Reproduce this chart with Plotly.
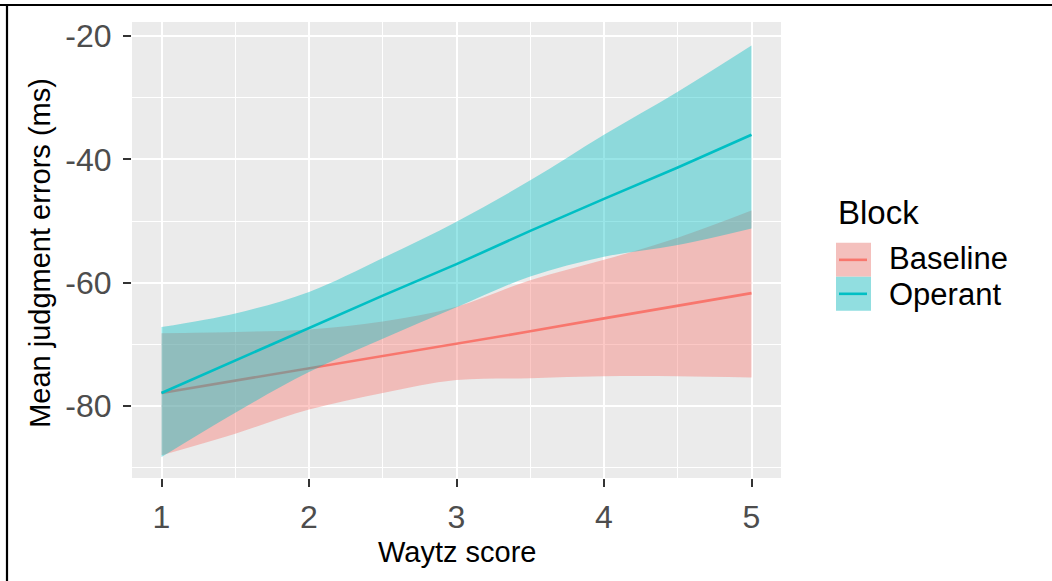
import plotly.graph_objects as go

# ---- data ----
waytz = [1, 1.5, 2, 2.5, 3, 3.5, 4, 4.5, 5]

baseline_fit = [-77.9, -75.9, -73.9, -72.0, -70.0, -67.9, -65.8, -63.8, -61.7]
baseline_upper = [-68.2, -68.0, -67.6, -66.3, -63.9, -59.6, -56.3, -52.7, -48.3]
baseline_lower = [-88.0, -84.5, -80.6, -77.9, -75.8, -75.5, -75.2, -75.2, -75.4]

operant_fit = [-77.9, -72.6, -67.3, -62.1, -57.0, -51.6, -46.4, -41.3, -36.0]
operant_upper = [-67.2, -65.0, -61.5, -56.0, -50.1, -43.4, -36.0, -29.0, -21.5]
operant_lower = [-88.3, -81.1, -74.5, -69.1, -64.0, -59.0, -55.8, -53.9, -51.2]

x_ticks = [1, 2, 3, 4, 5]
x_minor = [1.5, 2.5, 3.5, 4.5]
y_ticks = [-80, -60, -40, -20]
y_minor = [-90, -70, -50, -30]

groups = ["Baseline", "Operant"]
line_colors = ["#F8766D", "#00BFC4"]
fill_colors = ["rgba(248,118,109,0.4)", "rgba(0,191,196,0.4)"]
key_fills = ["#F4C0BD", "#91DEE0"]

series = [
    (baseline_lower, baseline_upper, baseline_fit),
    (operant_lower, operant_upper, operant_fit),
]

# ---- geometry (pixels) ----
W, H = 1052, 581
ML, MT = 132, 22
XR = [0.8, 5.2]
YR = [-91.7, -17.7]
PW = 649
PH = 456.3
MR = W - ML - PW
MB = H - MT - PH

def px(xp):
    return (xp - ML) / PW

def py(yp):
    return 1 - (yp - MT) / PH

FONT = "Liberation Sans, Arial, sans-serif"

fig = go.Figure()
for name, (lo, up, fit), lc, fc in zip(groups, series, line_colors, fill_colors):
    fig.add_trace(go.Scatter(x=waytz, y=lo, mode="lines", line=dict(width=0, shape="spline"),
                             showlegend=False, hoverinfo="skip"))
    fig.add_trace(go.Scatter(x=waytz, y=up, mode="lines", line=dict(width=0, shape="spline"),
                             fill="tonexty", fillcolor=fc, showlegend=False, hoverinfo="skip"))
    fig.add_trace(go.Scatter(x=waytz, y=fit, mode="lines", line=dict(color=lc, width=2.6),
                             name=name, showlegend=False))

shapes = []
annotations = []

# outer frame (top and left)
shapes.append(dict(type="line", xref="paper", yref="paper", x0=px(0), x1=px(W), y0=py(5), y1=py(5),
                   line=dict(color="black", width=2.2)))
shapes.append(dict(type="line", xref="paper", yref="paper", x0=px(7), x1=px(7), y0=py(4), y1=py(H + 5),
                   line=dict(color="black", width=2.2)))

# manual legend
annotations.append(dict(xref="paper", yref="paper", x=px(836), y=py(213), xanchor="left", yanchor="middle",
                        text="Block", showarrow=False, font=dict(family=FONT, size=33, color="black")))
key_rows = [(243, 277), (277, 311)]
text_y = [259, 295]
for (y0, y1), ty, name, lc, kf in zip(key_rows, text_y, groups, line_colors, key_fills):
    shapes.append(dict(type="rect", xref="paper", yref="paper", x0=px(836), x1=px(871), y0=py(y1), y1=py(y0),
                       fillcolor=kf, line=dict(width=0), layer="above"))
    ym = (y0 + y1) / 2
    shapes.append(dict(type="line", xref="paper", yref="paper", x0=px(839), x1=px(867), y0=py(ym), y1=py(ym),
                       line=dict(color=lc, width=2.6), layer="above"))
    annotations.append(dict(xref="paper", yref="paper", x=px(888), y=py(ty), xanchor="left", yanchor="middle",
                            text=name, showarrow=False, borderpad=0,
                            font=dict(family=FONT, size=31, color="black")))

# axis titles
annotations.append(dict(xref="paper", yref="paper", x=px(456.5), y=py(552), xanchor="center", yanchor="middle",
                        text="Waytz score", showarrow=False, font=dict(family=FONT, size=29, color="black")))
annotations.append(dict(xref="paper", yref="paper", x=px(40), y=py(253), xanchor="center", yanchor="middle",
                        text="Mean judgment errors (ms)", textangle=-90, showarrow=False,
                        font=dict(family=FONT, size=29, color="black")))

fig.update_layout(
    width=W, height=H,
    margin=dict(l=ML, r=MR, t=MT, b=MB, pad=0),
    paper_bgcolor="white",
    plot_bgcolor="#EBEBEB",
    showlegend=False,
    font=dict(family=FONT),
    shapes=shapes,
    annotations=annotations,
)
fig.update_xaxes(
    range=XR, tickvals=x_ticks, ticktext=[str(v) for v in x_ticks],
    showgrid=True, gridcolor="white", gridwidth=2.4, zeroline=False, showline=False,
    ticks="outside", ticklen=8, tickwidth=2, tickcolor="#333333", ticklabelstandoff=3,
    tickfont=dict(family=FONT, size=32, color="#4D4D4D"),
    minor=dict(tickvals=x_minor, showgrid=True, gridcolor="white", gridwidth=1.2, ticks=""),
)
fig.update_yaxes(
    range=YR, tickvals=y_ticks, ticktext=[str(v) for v in y_ticks],
    showgrid=True, gridcolor="white", gridwidth=2.4, zeroline=False, showline=False,
    ticks="outside", ticklen=8, tickwidth=2, tickcolor="#333333", ticklabelstandoff=5,
    tickfont=dict(family=FONT, size=32, color="#4D4D4D"),
    minor=dict(tickvals=y_minor, showgrid=True, gridcolor="white", gridwidth=1.2, ticks=""),
)

fig.write_html("out.html")
